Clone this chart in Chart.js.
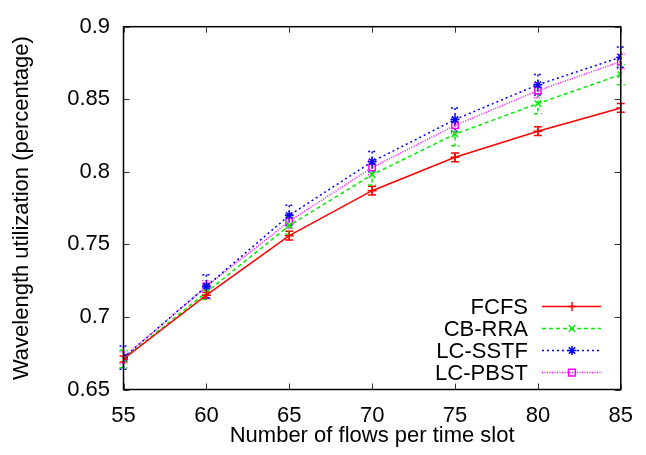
<!DOCTYPE html>
<html>
<head>
<meta charset="utf-8">
<script src="https://cdn.jsdelivr.net/npm/chart.js@4/dist/chart.umd.min.js"></script>
<style>
html,body{margin:0;padding:0;background:#fff;}
#wrap{width:646px;height:455px;}
</style>
</head>
<body>
<div id="wrap"><canvas id="c" width="646" height="455"></canvas></div>
<script>
// ---- data ----
const categories = [55, 60, 65, 70, 75, 80, 85];
const seriesNames = ['FCFS', 'CB-RRA', 'LC-SSTF', 'LC-PBST'];
const fcfs   = [0.671, 0.715, 0.756, 0.787, 0.810, 0.828, 0.844];
const cbrra  = [0.671, 0.717, 0.763, 0.798, 0.826, 0.847, 0.867];
const lcsstf = [0.672, 0.721, 0.770, 0.807, 0.836, 0.860, 0.879];
const lcpbst = [0.672, 0.721, 0.766, 0.803, 0.832, 0.856, 0.876];
const fcfsErr   = [0.002, 0.002, 0.003, 0.003, 0.003, 0.003, 0.003];
const cbrraErr  = [0.006, 0.005, 0.006, 0.007, 0.008, 0.007, 0.007];
const lcsstfErr = [0.008, 0.008, 0.007, 0.007, 0.008, 0.007, 0.007];
const lcpbstErr = [0.004, 0.004, 0.005, 0.005, 0.005, 0.005, 0.005];
const xTicks = [55, 60, 65, 70, 75, 80, 85];
const yTicks = [0.65, 0.7, 0.75, 0.8, 0.85, 0.9];
const yTickLabels = ['0.65', '0.7', '0.75', '0.8', '0.85', '0.9'];
const xTitle = 'Number of flows per time slot';
const yTitle = 'Wavelength utilization (percentage)';

// ---- styles ----
const FONT = '"Liberation Sans", Arial, Helvetica, sans-serif';
const FS = 22;
const styles = [
  {color: '#ff0000', dash: [], point: 'cross'},
  {color: '#00ee00', dash: [4, 3], point: 'crossRot'},
  {color: '#0000ff', dash: [2, 3], point: 'star'},
  {color: '#ff00ff', dash: [1, 1.5], point: 'rect'}
];
const values = [fcfs, cbrra, lcsstf, lcpbst];
const errors = [fcfsErr, cbrraErr, lcsstfErr, lcpbstErr];

const datasets = seriesNames.map((name, i) => ({
  label: name,
  data: categories.map((x, j) => ({x: x, y: values[i][j]})),
  errors: errors[i],
  borderColor: styles[i].color,
  backgroundColor: styles[i].color,
  borderWidth: 1.5,
  borderDash: styles[i].dash,
  pointStyle: styles[i].point,
  pointRadius: 4.5,
  pointBorderWidth: 1.5,
  pointBorderColor: styles[i].color,
  pointBackgroundColor: 'rgba(0,0,0,0)',
  tension: 0,
  fill: false
}));

function drawMarker(ctx, style, x, y, r, color) {
  ctx.save();
  ctx.strokeStyle = color;
  ctx.lineWidth = 1.5;
  ctx.setLineDash([]);
  ctx.beginPath();
  if (style === 'cross' || style === 'star') {
    ctx.moveTo(x - r, y); ctx.lineTo(x + r, y);
    ctx.moveTo(x, y - r); ctx.lineTo(x, y + r);
  }
  if (style === 'crossRot' || style === 'star') {
    const d = r * 0.7071;
    ctx.moveTo(x - d, y - d); ctx.lineTo(x + d, y + d);
    ctx.moveTo(x - d, y + d); ctx.lineTo(x + d, y - d);
  }
  if (style === 'rect') {
    const d = r * 0.75;
    ctx.rect(x - d, y - d, 2 * d, 2 * d);
  }
  ctx.stroke();
  ctx.restore();
}

const gnuplotPlugin = {
  id: 'gnuplotPlugin',
  beforeDatasetsDraw(chart) {
    const ctx = chart.ctx;
    const xs = chart.scales.x, ys = chart.scales.y;
    chart.data.datasets.forEach((ds, i) => {
      ctx.save();
      ctx.strokeStyle = ds.borderColor;
      ctx.lineWidth = 1.5;
      ctx.setLineDash(ds.borderDash);
      ds.data.forEach((p, j) => {
        const e = ds.errors[j];
        const px = xs.getPixelForValue(p.x);
        const y1 = ys.getPixelForValue(p.y + e);
        const y2 = ys.getPixelForValue(p.y - e);
        ctx.beginPath();
        ctx.moveTo(px, y1); ctx.lineTo(px, y2);
        ctx.moveTo(px - 4, y1); ctx.lineTo(px + 4, y1);
        ctx.moveTo(px - 4, y2); ctx.lineTo(px + 4, y2);
        ctx.stroke();
      });
      ctx.restore();
    });
  },
  afterDraw(chart) {
    const ctx = chart.ctx;
    const a = chart.chartArea;
    const xs = chart.scales.x, ys = chart.scales.y;
    ctx.save();
    ctx.strokeStyle = '#000';
    ctx.lineWidth = 1.5;
    ctx.setLineDash([]);
    ctx.strokeRect(a.left, a.top, a.right - a.left, a.bottom - a.top);
    ctx.lineWidth = 1;
    ctx.strokeStyle = '#333';
    const tl = 6;
    ctx.beginPath();
    xTicks.forEach(v => {
      const px = Math.round(xs.getPixelForValue(v)) + 0.5;
      ctx.moveTo(px, a.bottom); ctx.lineTo(px, a.bottom - tl);
      ctx.moveTo(px, a.top); ctx.lineTo(px, a.top + tl);
    });
    yTicks.forEach(v => {
      const py = Math.round(ys.getPixelForValue(v)) + 0.5;
      ctx.moveTo(a.left, py); ctx.lineTo(a.left + tl, py);
      ctx.moveTo(a.right, py); ctx.lineTo(a.right - tl, py);
    });
    ctx.stroke();

    // legend
    const rows = [306.5, 328.5, 350.5, 372.5];
    ctx.font = FS + 'px ' + FONT;
    ctx.textAlign = 'right';
    ctx.textBaseline = 'middle';
    ctx.fillStyle = '#000';
    chart.data.datasets.forEach((ds, i) => {
      const y = rows[i];
      ctx.fillText(ds.label, 528, y + 1);
      ctx.save();
      ctx.strokeStyle = ds.borderColor;
      ctx.lineWidth = 1.5;
      ctx.setLineDash(ds.borderDash);
      ctx.beginPath();
      ctx.moveTo(542, y); ctx.lineTo(601, y);
      ctx.stroke();
      ctx.restore();
      drawMarker(ctx, ds.pointStyle, 572, y, 4.5, ds.borderColor);
    });
    ctx.restore();
  }
};

new Chart(document.getElementById('c'), {
  type: 'line',
  data: {datasets: datasets},
  plugins: [gnuplotPlugin],
  options: {
    responsive: false,
    devicePixelRatio: 1,
    animation: false,
    layout: {padding: {left: 0, top: 22, right: 17.5, bottom: 0}},
    plugins: {legend: {display: false}, tooltip: {enabled: false}},
    scales: {
      x: {
        type: 'linear', min: 55, max: 85,
        afterBuildTicks: s => { s.ticks = xTicks.map(v => ({value: v})); },
        afterFit: s => { s.height = 65.5; },
        grid: {display: false, drawTicks: false},
        border: {display: false},
        ticks: {color: '#000', font: {family: FONT, size: FS}, padding: 13, maxRotation: 0,
          callback: v => String(v)},
        title: {display: true, text: xTitle, color: '#000', font: {family: FONT, size: FS}, padding: {top: 0, bottom: 6}}
      },
      y: {
        type: 'linear', min: 0.65, max: 0.9,
        afterBuildTicks: s => { s.ticks = yTicks.map(v => ({value: v})); },
        afterFit: s => { s.width = 123.5; },
        grid: {display: false, drawTicks: false},
        border: {display: false},
        ticks: {color: '#000', font: {family: FONT, size: FS}, padding: 13.5,
          callback: (v, idx) => yTickLabels[idx]},
        title: {display: true, text: yTitle, color: '#000', font: {family: FONT, size: FS}, padding: {top: 9, bottom: 0}}
      }
    }
  }
});
</script>
</body>
</html>
